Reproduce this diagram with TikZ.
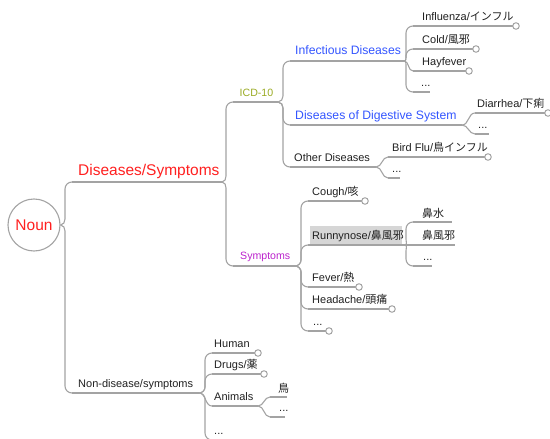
\documentclass[tikz,border=0pt]{standalone}
\usepackage{fontspec}
\setmainfont{Liberation Sans}
\newfontfamily\jp{Noto Sans CJK JP}
\usetikzlibrary{calc}
\definecolor{ln}{HTML}{A3A3A3}
\definecolor{tx}{HTML}{202020}
\definecolor{rd}{HTML}{FF2020}
\definecolor{ol}{HTML}{99AA22}
\definecolor{pu}{HTML}{BB22CC}
\definecolor{bl}{HTML}{3355FF}
\definecolor{boxg}{HTML}{D6D6D6}
% connectors: child below / child above / nearly level
\newcommand\brdn[2]{\draw[conn] (#1) to[out=0,in=90] ($(#1-|#2)+(-7,6)$) -- ($(#2)+(-7,-7)$) to[out=-90,in=180] (#2);}
\newcommand\brup[2]{\draw[conn] (#1) to[out=0,in=-90] ($(#1-|#2)+(-7,-6)$) -- ($(#2)+(-7,7)$) to[out=90,in=180] (#2);}
\newcommand\brs[2]{\draw[conn] (#1) to[out=0,in=180] (#2);}
\begin{document}
\begin{tikzpicture}[x=1pt,y=-1pt,
  conn/.style={draw=ln,line width=1.1pt},
  t/.style={anchor=base west,inner sep=0pt,text=tx,font=\fontsize{11}{13}\selectfont},
  big/.style={t,text=rd,font=\fontsize{15.5}{18}\selectfont},
  mid/.style={t,text=bl,font=\fontsize{12.2}{14}\selectfont},
  sm/.style={t,font=\fontsize{10.6}{13}\selectfont},
  dot/.style={circle,draw=ln,fill=white,line width=1pt,inner sep=0pt,minimum size=6.5pt}]
\useasboundingbox (0,0) rectangle (550,439);

% root
\node[circle,draw=ln,line width=1.1pt,minimum size=52pt,inner sep=0pt,text=rd,font=\fontsize{15.5}{18}\selectfont] (noun) at (34,225) {Noun};

% level 1
\coordinate (dsS) at (72,182); \coordinate (dsE) at (222,182);
\node[big] (ds) at (78,175) {Diseases/Symptoms};
\coordinate (ndS) at (72,393); \coordinate (ndE) at (199,393);
\node[t] (nd) at (78,387.5) {Non-disease/symptoms};
\brup{noun.east}{dsS} \draw[conn] (dsS) -- (dsE);
\brdn{noun.east}{ndS} \draw[conn] (ndS) -- (ndE);

% level 2 under Diseases/Symptoms
\coordinate (icdS) at (233,102); \coordinate (icdE) at (278,102);
\node[sm,text=ol] (icd) at (239.5,96.5) {ICD-10};
\coordinate (symS) at (233,266); \coordinate (symE) at (295,266);
\node[sm,text=pu] (sym) at (240,259.5) {Symptoms};
\brup{dsE}{icdS} \draw[conn] (icdS) -- (icdE);
\brdn{dsE}{symS} \draw[conn] (symS) -- (symE);

% level 3 under ICD-10
\coordinate (infS) at (290,61); \coordinate (infE) at (404,61);
\node[mid] (inf) at (295,54.5) {Infectious Diseases};
\coordinate (digS) at (290,125); \coordinate (digE) at (462,125);
\node[mid] (dig) at (295,119) {Diseases of Digestive System};
\coordinate (othS) at (290,167); \coordinate (othE) at (376,167);
\node[t] (oth) at (294,161) {Other Diseases};
\brup{icdE}{infS} \draw[conn] (infS) -- (infE);
\brdn{icdE}{digS} \draw[conn] (digS) -- (digE);
\brdn{icdE}{othS} \draw[conn] (othS) -- (othE);

% level 4 under Infectious Diseases
\coordinate (fluS) at (413,26); \coordinate (fluE) at (513,26);
\node[t] (flu) at (422,20.5) {Influenza/{\jp インフル}};
\coordinate (coldS) at (413,49); \coordinate (coldE) at (473,49);
\node[t] (cold) at (422,43) {Cold/{\jp 風邪}};
\coordinate (hayS) at (413,71); \coordinate (hayE) at (466,71);
\node[t] (hay) at (422,65) {Hayfever};
\coordinate (idS) at (413,92); \coordinate (idE) at (430,92);
\node[t] (id) at (421,86.5) {...};
\brup{infE}{fluS} \draw[conn] (fluS) -- (fluE);
\brup{infE}{coldS} \draw[conn] (coldS) -- (coldE);
\brs{infE}{hayS} \draw[conn] (hayS) -- (hayE);
\brdn{infE}{idS} \draw[conn] (idS) -- (idE);

% level 4 under Digestive
\coordinate (diaS) at (475,113); \coordinate (diaE) at (545,113);
\node[t] (dia) at (477,107) {Diarrhea/{\jp 下痢}};
\coordinate (ddS) at (475,134); \coordinate (ddE) at (489,134);
\node[t] (dd) at (478,128.5) {...};
\brs{digE}{diaS} \draw[conn] (diaS) -- (diaE);
\brs{digE}{ddS} \draw[conn] (ddS) -- (ddE);

% level 4 under Other Diseases
\coordinate (birdS) at (388,157); \coordinate (birdE) at (485,157);
\node[t] (bird) at (392,151) {Bird Flu/{\jp 鳥インフル}};
\coordinate (odS) at (388,178); \coordinate (odE) at (400,178);
\node[t] (od) at (392,172.5) {...};
\brs{othE}{birdS} \draw[conn] (birdS) -- (birdE);
\brs{othE}{odS} \draw[conn] (odS) -- (odE);

% level 3 under Symptoms
\coordinate (coS) at (308,201); \coordinate (coE) at (362,201);
\node[t] (co) at (312,195) {Cough/{\jp 咳}};
\coordinate (ruS) at (308,245); \coordinate (ruE) at (405,245);
\fill[boxg] (310,226) rectangle (402,244);
\node[t] (ru) at (312,239) {Runnynose/{\jp 鼻風邪}};
\coordinate (feS) at (308,287); \coordinate (feE) at (356,287);
\node[t] (fe) at (312,281) {Fever/{\jp 熱}};
\coordinate (heS) at (308,309); \coordinate (heE) at (389,309);
\node[t] (he) at (312,303) {Headache/{\jp 頭痛}};
\coordinate (sdS) at (308,331); \coordinate (sdE) at (326,331);
\node[t] (sd) at (313,325) {...};
\brup{symE}{coS} \draw[conn] (coS) -- (coE);
\brup{symE}{ruS} \draw[conn] (ruS) -- (ruE);
\brdn{symE}{feS} \draw[conn] (feS) -- (feE);
\brdn{symE}{heS} \draw[conn] (heS) -- (heE);
\brdn{symE}{sdS} \draw[conn] (sdS) -- (sdE);

% level 4 under Runnynose
\coordinate (noS) at (413,222); \coordinate (noE) at (452,222);
\node[t] (no) at (422,217) {\jp 鼻水};
\coordinate (ncE) at (455,245);
\node[t] (nc) at (422,239) {\jp 鼻風邪};
\coordinate (rdS) at (413,266); \coordinate (rdE) at (432,266);
\node[t] (rdots) at (423,260.5) {...};
\brup{ruE}{noS} \draw[conn] (noS) -- (noE);
\draw[conn] (ruE) -- (ncE);
\brdn{ruE}{rdS} \draw[conn] (rdS) -- (rdE);

% level 2 under Non-disease
\coordinate (huS) at (212,353); \coordinate (huE) at (255,353);
\node[t] (hu) at (214,347) {Human};
\coordinate (drS) at (212,374); \coordinate (drE) at (261,374);
\node[t] (dr) at (214,368) {Drugs/{\jp 薬}};
\coordinate (anS) at (212,406); \coordinate (anE) at (258,406);
\node[t] (an) at (214,400.5) {Animals};
\coordinate (n2S) at (212,440); \coordinate (n2E) at (228,440);
\node[t] (n2) at (214,434) {...};
\brup{ndE}{huS} \draw[conn] (huS) -- (huE);
\brup{ndE}{drS} \draw[conn] (drS) -- (drE);
\brs{ndE}{anS} \draw[conn] (anS) -- (anE);
\brdn{ndE}{n2S} \draw[conn] (n2S) -- (n2E);

% level 3 under Animals
\coordinate (biS) at (270,397); \coordinate (biE) at (287,397);
\node[t] (bi) at (278,392.5) {\jp 鳥};
\coordinate (adS) at (270,417); \coordinate (adE) at (285,417);
\node[t] (ad) at (279,411.5) {...};
\brs{anE}{biS} \draw[conn] (biS) -- (biE);
\brs{anE}{adS} \draw[conn] (adS) -- (adE);

% end circles
\node[dot] (dflu) at (516,26) {};
\node[dot] (dcold) at (476,49) {};
\node[dot] (dhay) at (469,71) {};
\node[dot] (ddia) at (548,113) {};
\node[dot] (dbird) at (488,157) {};
\node[dot] (dco) at (365,201) {};
\node[dot] (dfe) at (359,287) {};
\node[dot] (dhe) at (392,309) {};
\node[dot] (dsd) at (329,331) {};
\node[dot] (dhu) at (258,353) {};
\node[dot] (ddr) at (264,374) {};
\end{tikzpicture}
\end{document}
